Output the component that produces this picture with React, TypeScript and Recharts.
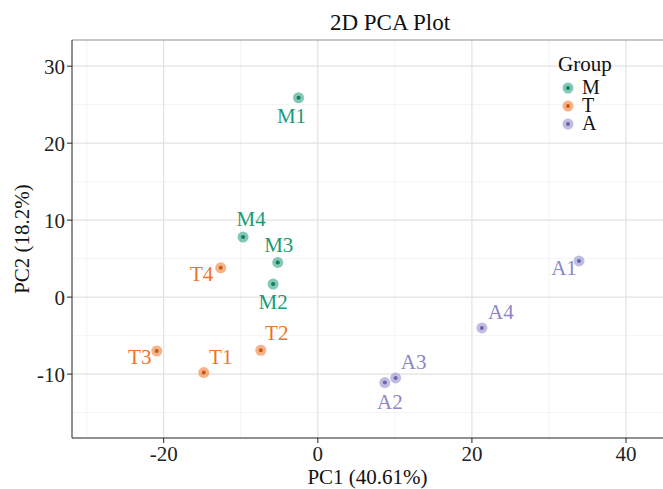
import React from 'react';
import { ScatterChart, Scatter, XAxis, YAxis, CartesianGrid, ReferenceLine } from 'recharts';

const groups = ['M', 'T', 'A'];
const groupColors: Record<string, string> = { M: '#1B9A77', T: '#EC7424', A: '#8B86C6' };
const groupDark: Record<string, string> = { M: '#137a5c', T: '#c95a10', A: '#6b65ad' };

const mNames = ['M1', 'M2', 'M3', 'M4'];
const mPC1 = [-2.5, -5.8, -5.2, -9.7];
const mPC2 = [25.9, 1.7, 4.5, 7.8];

const tNames = ['T1', 'T2', 'T3', 'T4'];
const tPC1 = [-14.8, -7.4, -20.9, -12.6];
const tPC2 = [-9.8, -6.9, -7.0, 3.8];

const aNames = ['A1', 'A2', 'A3', 'A4'];
const aPC1 = [33.9, 8.7, 10.1, 21.3];
const aPC2 = [4.7, -11.1, -10.5, -4.0];

const xTicks = [-20, 0, 20, 40];
const yTicks = [-10, 0, 10, 20, 30];
const xMinor = [-30, -10, 10, 30];
const yMinor = [-15, -5, 5, 15, 25];
const xDomain = [-31.9, 44.8];
const yDomain = [-18.3, 33.4];

const title = '2D PCA Plot';
const xTitle = 'PC1 (40.61%)';
const yTitle = 'PC2 (18.2%)';
const legendTitle = 'Group';

// label placement (px offset from point center to label center)
const labelOffset: Record<string, [number, number]> = {
  M1: [-7, 18], M2: [0, 18], M3: [1, -17], M4: [8, -18],
  T1: [17, -16], T2: [16, -17], T3: [-17, 6], T4: [-19, 6],
  A1: [-15, 7], A2: [5, 19], A3: [18, -16], A4: [19, -16],
};

const build = (names: string[], xs: number[], ys: number[], g: string) =>
  names.map((n, i) => ({ name: n, pc1: xs[i], pc2: ys[i], group: g }));

const seriesData: Record<string, any[]> = {
  M: build(mNames, mPC1, mPC2, 'M'),
  T: build(tNames, tPC1, tPC2, 'T'),
  A: build(aNames, aPC1, aPC2, 'A'),
};

const FONT = 'Liberation Serif, Times New Roman, serif';

const PointShape = (props: any) => {
  const { cx, cy, payload } = props;
  const g = payload.group;
  const [dx, dy] = labelOffset[payload.name] || [0, 0];
  return (
    <g>
      <circle cx={cx} cy={cy} r={5.5} fill={groupColors[g]} fillOpacity={0.55} />
      <circle cx={cx} cy={cy} r={2} fill={groupDark[g]} />
      <text
        x={cx + dx}
        y={cy + dy}
        textAnchor="middle"
        dominantBaseline="central"
        fontFamily={FONT}
        fontSize={21}
        fill={groupColors[g]}
      >
        {payload.name}
      </text>
    </g>
  );
};

export default function App() {
  return (
    <div style={{ position: 'absolute', left: 0, top: 0, width: 663, height: 489, background: '#fff' }}>
      <ScatterChart width={663} height={489} margin={{ top: 40, right: 0, bottom: 0, left: 0 }}>
        <CartesianGrid
          stroke="#F0F0F0"
          strokeWidth={0.8}
          horizontalValues={yMinor}
          verticalValues={xMinor}
        />
        <CartesianGrid
          stroke="#E2E2E2"
          strokeWidth={1.2}
          horizontalValues={yTicks}
          verticalValues={xTicks}
        />
        <ReferenceLine y={yDomain[1]} stroke="#8f8f8f" strokeWidth={1} ifOverflow="visible" />
        <XAxis
          type="number"
          dataKey="pc1"
          domain={xDomain}
          ticks={xTicks}
          allowDataOverflow
          height={51}
          stroke="#222"
          tickSize={5}
          tickMargin={3}
          tick={{ fill: '#222', fontSize: 21, fontFamily: FONT }}
          label={{
            value: xTitle,
            position: 'insideBottom',
            offset: 5,
            style: { fill: '#111', fontSize: 21, fontFamily: FONT },
          }}
        />
        <YAxis
          type="number"
          dataKey="pc2"
          domain={yDomain}
          ticks={yTicks}
          allowDataOverflow
          width={72}
          stroke="#222"
          tickSize={5}
          tickMargin={2}
          tick={{ fill: '#222', fontSize: 21, fontFamily: FONT }}
          label={{
            value: yTitle,
            angle: -90,
            position: 'insideLeft',
            offset: 22,
            style: { fill: '#111', fontSize: 21, fontFamily: FONT, textAnchor: 'middle' },
          }}
        />
        {groups.map((g) => (
          <Scatter
            key={g}
            name={g}
            data={seriesData[g]}
            fill={groupColors[g]}
            shape={PointShape}
            isAnimationActive={false}
          />
        ))}
      </ScatterChart>
      <svg
        width={663}
        height={489}
        style={{ position: 'absolute', left: 0, top: 0, pointerEvents: 'none' }}
      >
        <text x={390} y={30} textAnchor="middle" fontFamily={FONT} fontSize={23} fill="#111">
          {title}
        </text>
        <text x={558} y={71} fontFamily={FONT} fontSize={21} fill="#111">
          {legendTitle}
        </text>
        {groups.map((g, i) => (
          <g key={g}>
            <circle cx={568} cy={88 + i * 18} r={5.5} fill={groupColors[g]} fillOpacity={0.55} />
            <circle cx={568} cy={88 + i * 18} r={2} fill={groupDark[g]} />
            <text x={582} y={94 + i * 18} fontFamily={FONT} fontSize={20} fill="#111">
              {g}
            </text>
          </g>
        ))}
      </svg>
    </div>
  );
}
